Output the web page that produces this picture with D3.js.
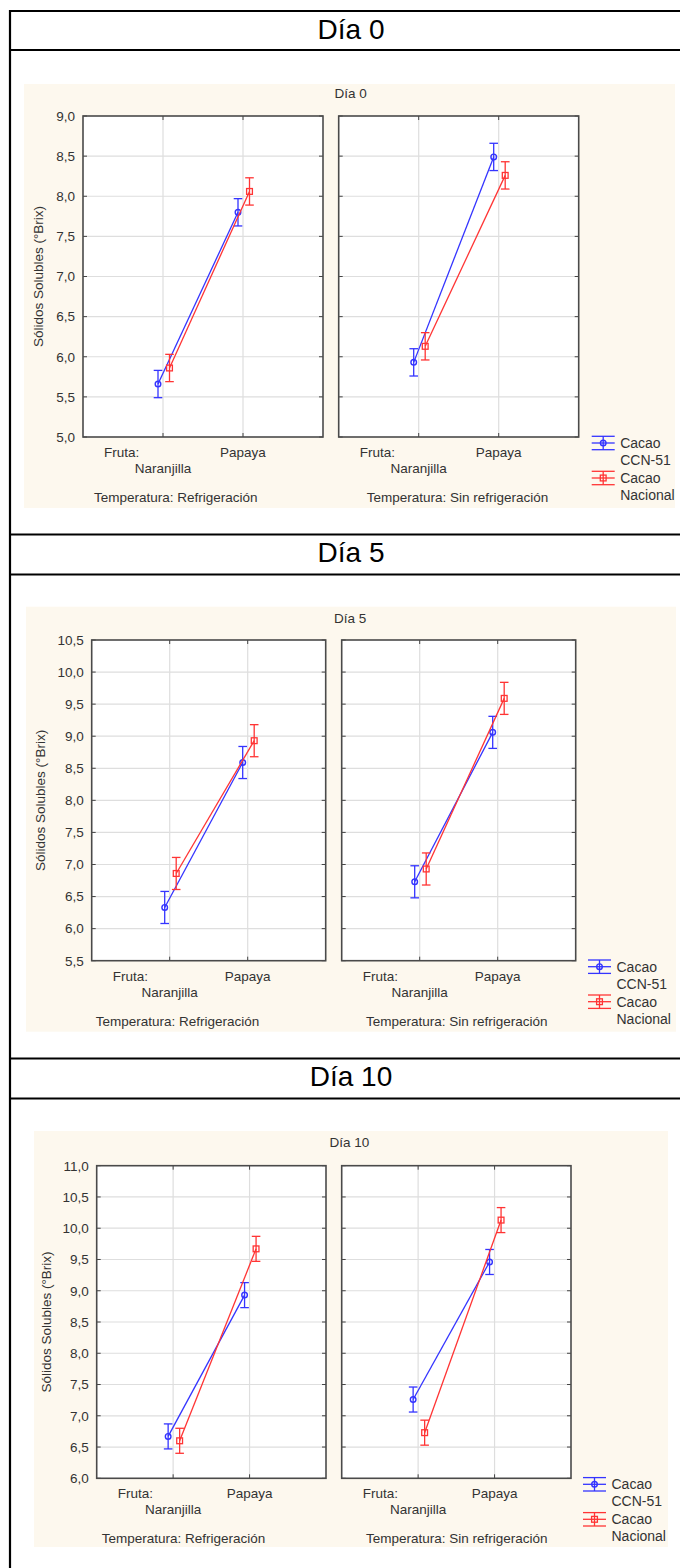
<!DOCTYPE html>
<html>
<head>
<meta charset="utf-8">
<script src="https://cdn.jsdelivr.net/npm/d3@7"></script>
<style>
  body { margin: 0; background: #ffffff; }
  svg { display: block; font-family: "Liberation Sans", Arial, sans-serif; }
</style>
</head>
<body>
<svg id="chart" width="680" height="1568"></svg>
<script>
// ---- data ----
const days = ["Día 0", "Día 5", "Día 10"];
const fruits = ["Naranjilla", "Papaya"];
const temperatures = ["Refrigeración", "Sin refrigeración"];
const cultivars = ["Cacao CCN-51", "Cacao Nacional"];
const legendLabels = [["Cacao", "CCN-51"], ["Cacao", "Nacional"]];
const yDomains = [[5, 9], [5.5, 10.5], [6, 11]];
const yTickStep = 0.5;

// mean soluble solids (°Brix), indexed [day][temperature][fruit]
const meanCCN51 = [
  [[5.66, 7.80], [5.93, 8.49]],
  [[6.33, 8.59], [6.73, 9.06]],
  [[6.67, 8.93], [7.26, 9.46]]
];
const meanNacional = [
  [[5.86, 8.06], [6.13, 8.26]],
  [[6.86, 8.93], [6.93, 9.59]],
  [[6.60, 9.67], [6.73, 10.13]]
];
// half-width of the confidence interval, one per day
const ciHalfWidth = [0.17, 0.25, 0.20];

// ---- layout ----
const headerRows = [[11, 50], [534.5, 574.5], [1058.5, 1098.5]];
const panels = [
  { bg: [24, 84, 651, 424], title: [334.5, 97.5], top: 116, h: 321, lefts: [83, 338.7], w: 240,
    legendX: 591.7, tempX: [94, 366.7], yTitleX: 38 },
  { bg: [26, 606.7, 650, 425], title: [334, 622.5], top: 640, h: 320.7, lefts: [91.7, 341.7], w: 234,
    legendX: 588, tempX: [95.7, 366], yTitleX: 40 },
  { bg: [34, 1131, 634, 416], title: [329.5, 1146.5], top: 1165.7, h: 312.6, lefts: [96.7, 341.7], w: 229.3,
    legendX: 583, tempX: [101.7, 366], yTitleX: 46 }
];
const colors = ["#3434ff", "#ff3434"];
const seriesOffset = d3.scalePoint().domain(cultivars).range([-5, 6.5]);
const fmt = v => d3.format(".1f")(v).replace(".", ",");
const textColor = "#333333";

const svg = d3.select("#chart");

// ---- table frame ----
const frame = svg.append("g");
headerRows.forEach(([y0, y1], i) => {
  frame.append("line").attr("x1", 10).attr("x2", 690).attr("y1", y0).attr("y2", y0)
    .attr("stroke", "#000").attr("stroke-width", 2.2);
  frame.append("line").attr("x1", 10).attr("x2", 690).attr("y1", y1).attr("y2", y1)
    .attr("stroke", "#000").attr("stroke-width", 2.2);
  frame.append("text").attr("x", 351).attr("y", y0 + 27.5)
    .attr("text-anchor", "middle").attr("font-size", 28).attr("fill", "#000")
    .text(days[i]);
});
frame.append("line").attr("x1", 10).attr("x2", 10).attr("y1", 10).attr("y2", 1568)
  .attr("stroke", "#000").attr("stroke-width", 2.2);

// marker drawing for each cultivar
function drawMarker(g, si, x, y) {
  if (si === 0) {
    g.append("circle").attr("cx", x).attr("cy", y).attr("r", 2.8)
      .attr("fill", "none").attr("stroke", colors[si]).attr("stroke-width", 1.4);
  } else {
    g.append("rect").attr("x", x - 2.9).attr("y", y - 2.9).attr("width", 5.8).attr("height", 5.8)
      .attr("fill", "none").attr("stroke", colors[si]).attr("stroke-width", 1.3);
  }
}

// ---- one section per day ----
days.forEach((day, di) => {
  const P = panels[di];
  const g = svg.append("g");
  g.append("rect").attr("x", P.bg[0]).attr("y", P.bg[1]).attr("width", P.bg[2]).attr("height", P.bg[3])
    .attr("fill", "#fdf8ee");
  g.append("text").attr("x", P.title[0]).attr("y", P.title[1])
    .attr("font-size", 13.5).attr("fill", textColor).text(day);

  const y = d3.scaleLinear().domain(yDomains[di]).range([P.top + P.h, P.top]);
  const yTicks = d3.range(yDomains[di][0], yDomains[di][1] + yTickStep / 2, yTickStep);
  const bottom = P.top + P.h;

  // y axis labels and title (left panel only)
  g.append("g").selectAll("text").data(yTicks).join("text")
    .attr("x", P.lefts[0] - 8).attr("y", d => y(d)).attr("dy", "0.36em")
    .attr("text-anchor", "end").attr("font-size", 13.5).attr("fill", textColor)
    .text(fmt);
  g.append("text")
    .attr("transform", `translate(${P.yTitleX},${P.top + P.h / 2}) rotate(-90)`)
    .attr("dy", "0.35em").attr("text-anchor", "middle")
    .attr("font-size", 13.5).attr("fill", textColor)
    .text("Sólidos Solubles (°Brix)");

  temperatures.forEach((temp, ti) => {
    const left = P.lefts[ti];
    const x = d3.scalePoint().domain(fruits).range([left, left + P.w]).padding(1);
    const pg = g.append("g");

    pg.append("rect").attr("x", left).attr("y", P.top).attr("width", P.w).attr("height", P.h)
      .attr("fill", "#ffffff");

    // grid
    pg.append("g").selectAll("line").data(yTicks.slice(1, -1)).join("line")
      .attr("x1", left).attr("x2", left + P.w).attr("y1", d => y(d)).attr("y2", d => y(d))
      .attr("stroke", "#dedede").attr("stroke-width", 1.2);
    pg.append("g").selectAll("line").data(fruits).join("line")
      .attr("x1", d => x(d)).attr("x2", d => x(d)).attr("y1", P.top).attr("y2", bottom)
      .attr("stroke", "#dedede").attr("stroke-width", 1.2);

    // inward ticks on all four sides
    const tk = pg.append("g").attr("stroke", "#444").attr("stroke-width", 1);
    tk.selectAll(".tl").data(yTicks).join("line").attr("class", "tl")
      .attr("x1", left).attr("x2", left + 4).attr("y1", d => y(d)).attr("y2", d => y(d));
    tk.selectAll(".tr").data(yTicks).join("line").attr("class", "tr")
      .attr("x1", left + P.w - 4).attr("x2", left + P.w).attr("y1", d => y(d)).attr("y2", d => y(d));
    tk.selectAll(".tt").data(fruits).join("line").attr("class", "tt")
      .attr("x1", d => x(d)).attr("x2", d => x(d)).attr("y1", P.top).attr("y2", P.top + 4);
    tk.selectAll(".tb").data(fruits).join("line").attr("class", "tb")
      .attr("x1", d => x(d)).attr("x2", d => x(d)).attr("y1", bottom - 4).attr("y2", bottom);

    // series lines, error bars and markers
    [meanCCN51, meanNacional].forEach((means, si) => {
      const vals = means[di][ti];
      const pts = fruits.map((f, fi) => [x(f) + seriesOffset(cultivars[si]), y(vals[fi]), vals[fi]]);
      pg.append("path").attr("d", d3.line()(pts.map(p => [p[0], p[1]])))
        .attr("fill", "none").attr("stroke", colors[si]).attr("stroke-width", 1.3);
      pts.forEach(p => {
        const hi = y(p[2] + ciHalfWidth[di]), lo = y(p[2] - ciHalfWidth[di]);
        const eb = pg.append("g").attr("stroke", colors[si]).attr("stroke-width", 1.3);
        eb.append("line").attr("x1", p[0]).attr("x2", p[0]).attr("y1", hi).attr("y2", lo);
        eb.append("line").attr("x1", p[0] - 4.3).attr("x2", p[0] + 4.3).attr("y1", hi).attr("y2", hi);
        eb.append("line").attr("x1", p[0] - 4.3).attr("x2", p[0] + 4.3).attr("y1", lo).attr("y2", lo);
        drawMarker(pg, si, p[0], p[1]);
      });
    });

    // frame
    pg.append("rect").attr("x", left).attr("y", P.top).attr("width", P.w).attr("height", P.h)
      .attr("fill", "none").attr("stroke", "#4a4a4a").attr("stroke-width", 1.6);

    // category labels
    pg.append("text").attr("x", left + 21).attr("y", bottom + 20)
      .attr("font-size", 13.5).attr("fill", textColor).text("Fruta:");
    pg.append("text").attr("x", x(fruits[0])).attr("y", bottom + 36).attr("text-anchor", "middle")
      .attr("font-size", 13.5).attr("fill", textColor).text(fruits[0]);
    pg.append("text").attr("x", x(fruits[1])).attr("y", bottom + 20).attr("text-anchor", "middle")
      .attr("font-size", 13.5).attr("fill", textColor).text(fruits[1]);
    pg.append("text").attr("x", P.tempX[ti]).attr("y", bottom + 65)
      .attr("font-size", 13.5).attr("fill", textColor).text("Temperatura: " + temp);
  });

  // legend
  cultivars.forEach((c, si) => {
    const cy = bottom + 6 + si * 35;
    const lx = P.legendX, cx = lx + 11.5;
    const lg = g.append("g").attr("stroke", colors[si]).attr("stroke-width", 1.3);
    [-6.7, 0, 6.7].forEach(dy => {
      lg.append("line").attr("x1", lx).attr("x2", lx + 23).attr("y1", cy + dy).attr("y2", cy + dy);
    });
    lg.append("line").attr("x1", cx).attr("x2", cx).attr("y1", cy - 6.7).attr("y2", cy + 6.7);
    drawMarker(g, si, cx, cy);
    legendLabels[si].forEach((t, li) => {
      g.append("text").attr("x", lx + 28.5).attr("y", cy + 5 + li * 17)
        .attr("font-size", 14).attr("fill", textColor).text(t);
    });
  });
});
</script>
</body>
</html>
